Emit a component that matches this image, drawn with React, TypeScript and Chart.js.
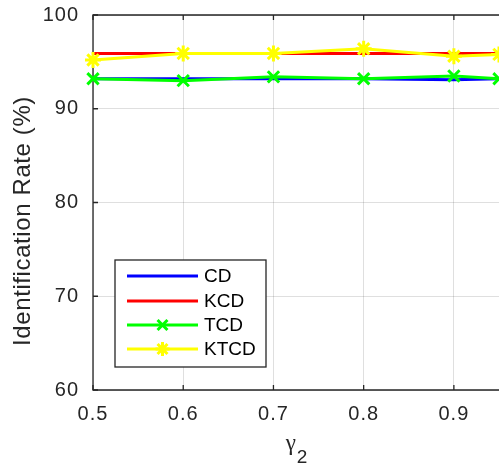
import React, { useEffect, useRef } from "react";
import { Chart, registerables } from "chart.js";

Chart.register(...registerables);

const xValues = [0.5, 0.6, 0.7, 0.8, 0.9, 0.95];
const cdValues = [93.2, 93.2, 93.2, 93.2, 93.1, 93.2];
const kcdValues = [95.9, 95.9, 95.9, 95.9, 95.9, 95.9];
const tcdValues = [93.2, 93.0, 93.4, 93.2, 93.5, 93.2];
const ktcdValues = [95.2, 95.9, 95.9, 96.4, 95.6, 95.8];
const xTicks = [0.5, 0.6, 0.7, 0.8, 0.9];
const yTicks = [60, 70, 80, 90, 100];
const seriesNames = ["CD", "KCD", "TCD", "KTCD"];
const seriesColors = ["#0000ff", "#ff0000", "#00ff00", "#ffff00"];
const seriesMarkers: (string | false)[] = [false, false, "crossRot", "star"];

const AXIS = "#262626";
const FONT = "'Liberation Sans', Arial, sans-serif";

const framePlugin = {
  id: "frame",
  beforeUpdate(chart: any) {
    chart.ctx.letterSpacing = "1px";
  },
  beforeDraw(chart: any) {
    chart.ctx.letterSpacing = "1px";
  },
  beforeDatasetsDraw(chart: any) {
    const { ctx, chartArea } = chart;
    const { left, right, top, bottom } = chartArea;
    const xs = chart.scales.x;
    const ys = chart.scales.y;
    ctx.save();
    ctx.strokeStyle = AXIS;
    ctx.lineWidth = 1.3;
    ctx.beginPath();
    ctx.moveTo(right + 2, top);
    ctx.lineTo(left, top);
    ctx.lineTo(left, bottom);
    ctx.lineTo(right + 2, bottom);
    ctx.stroke();
    const tl = 5;
    ctx.beginPath();
    xTicks.forEach((v) => {
      const px = xs.getPixelForValue(v);
      ctx.moveTo(px, bottom);
      ctx.lineTo(px, bottom - tl);
      ctx.moveTo(px, top);
      ctx.lineTo(px, top + tl);
    });
    yTicks.forEach((v) => {
      const py = ys.getPixelForValue(v);
      ctx.moveTo(left, py);
      ctx.lineTo(left + tl, py);
    });
    ctx.stroke();
    ctx.restore();
  },
  afterDraw(chart: any) {
    const { ctx, chartArea } = chart;
    const { left, right } = chartArea;
    ctx.save();
    // y title
    ctx.fillStyle = AXIS;
    ctx.letterSpacing = "0.6px";
    ctx.font = `24px ${FONT}`;
    ctx.textAlign = "center";
    ctx.textBaseline = "middle";
    ctx.translate(23, 221);
    ctx.rotate(-Math.PI / 2);
    ctx.fillText("Identification Rate (%)", 0, 0);
    ctx.restore();

    // x title gamma_2
    ctx.save();
    ctx.fillStyle = AXIS;
    ctx.letterSpacing = "0px";
    ctx.textBaseline = "alphabetic";
    ctx.textAlign = "left";
    const cx = (left + right) / 2;
    const gFont = `23px 'Liberation Serif', 'DejaVu Serif', serif`;
    const sFont = `19px ${FONT}`;
    ctx.font = gFont;
    const gw = ctx.measureText("γ").width;
    ctx.font = sFont;
    const sw = ctx.measureText("2").width;
    const sx = cx - (gw + sw) / 2;
    ctx.font = gFont;
    ctx.fillText("γ", sx, 450);
    ctx.font = sFont;
    ctx.fillText("2", sx + gw + 1, 463);
    ctx.restore();

    // legend
    ctx.save();
    ctx.letterSpacing = "0px";
    const bx = 115, by = 260, bw = 151, bh = 107;
    ctx.fillStyle = "#ffffff";
    ctx.fillRect(bx, by, bw, bh);
    ctx.strokeStyle = AXIS;
    ctx.lineWidth = 1.3;
    ctx.strokeRect(bx, by, bw, bh);
    const rows = [276, 301, 325, 349];
    rows.forEach((ry, i) => {
      ctx.strokeStyle = seriesColors[i];
      ctx.lineWidth = 3;
      ctx.beginPath();
      ctx.moveTo(127, ry);
      ctx.lineTo(198, ry);
      ctx.stroke();
      const m = seriesMarkers[i];
      const mx = 162.5;
      const r = 7;
      if (m === "crossRot" || m === "star") {
        ctx.lineWidth = 3;
        ctx.beginPath();
        const d = r * Math.SQRT1_2;
        ctx.moveTo(mx - d, ry - d);
        ctx.lineTo(mx + d, ry + d);
        ctx.moveTo(mx - d, ry + d);
        ctx.lineTo(mx + d, ry - d);
        if (m === "star") {
          ctx.moveTo(mx, ry - r);
          ctx.lineTo(mx, ry + r);
          ctx.moveTo(mx - r, ry);
          ctx.lineTo(mx + r, ry);
        }
        ctx.stroke();
      }
      ctx.fillStyle = "#000000";
      ctx.font = `19px ${FONT}`;
      ctx.textAlign = "left";
      ctx.textBaseline = "middle";
      ctx.fillText(seriesNames[i], 204, ry + 1);
    });
    ctx.restore();
  },
};

export default function App() {
  const ref = useRef<HTMLCanvasElement | null>(null);
  useEffect(() => {
    if (!ref.current) return;
    const series = [cdValues, kcdValues, tcdValues, ktcdValues];
    const chart = new Chart(ref.current, {
      type: "line",
      data: {
        datasets: series.map((vals, i) => ({
          label: seriesNames[i],
          data: xValues.map((x, j) => ({ x, y: vals[j] })),
          borderColor: seriesColors[i],
          backgroundColor: seriesColors[i],
          borderWidth: 3,
          pointStyle: seriesMarkers[i] || "circle",
          pointRadius: seriesMarkers[i] ? 8 : 0,
          pointBorderWidth: 3,
          pointBorderColor: seriesColors[i],
          fill: false,
          tension: 0,
          clip: false as any,
          order: 4 - i,
        })),
      },
      options: {
        responsive: false,
        animation: false,
        layout: { autoPadding: false, padding: { top: 15, right: 0, left: 0, bottom: 0 } },
        plugins: {
          legend: { display: false },
          tooltip: { enabled: false },
        },
        scales: {
          x: {
            type: "linear",
            min: 0.5,
            max: 0.95,
            afterBuildTicks: (s: any) => {
              s.ticks = xTicks.map((v) => ({ value: v }));
            },
            afterFit: (s: any) => {
              s.height = 78;
              s.paddingLeft = 0;
              s.paddingRight = 0;
            },
            grid: {
              color: "rgba(38,38,38,0.15)",
              lineWidth: 1,
              drawTicks: false,
            },
            border: { display: false },
            ticks: {
              color: AXIS,
              font: { family: FONT, size: 20 },
              padding: 12,
              maxRotation: 0,
              callback: (v: any) => Number(v).toFixed(1),
            },
          },
          y: {
            type: "linear",
            min: 60,
            max: 100,
            afterBuildTicks: (s: any) => {
              s.ticks = yTicks.map((v) => ({ value: v }));
            },
            afterFit: (s: any) => {
              s.width = 93;
              s.paddingTop = 0;
              s.paddingBottom = 0;
            },
            grid: {
              color: "rgba(38,38,38,0.15)",
              lineWidth: 1,
              drawTicks: false,
            },
            border: { display: false },
            ticks: {
              color: AXIS,
              font: { family: FONT, size: 20 },
              padding: 14,
              callback: (v: any) => String(v),
            },
          },
        },
      },
      plugins: [framePlugin],
    });
    return () => chart.destroy();
  }, []);
  return (
    <div style={{ position: "fixed", left: 0, top: 0, width: 499, height: 468, background: "#fff" }}>
      <canvas ref={ref} width={499} height={468} style={{ width: 499, height: 468, display: "block" }} />
    </div>
  );
}
